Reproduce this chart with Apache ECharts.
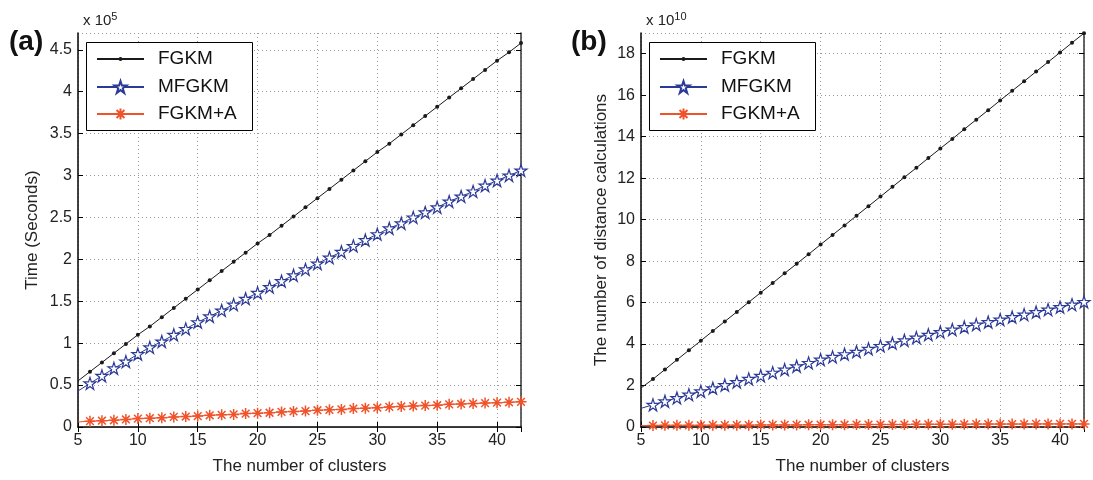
<!DOCTYPE html>
<html>
<head>
<meta charset="utf-8">
<script src="https://cdn.jsdelivr.net/npm/echarts@6/dist/echarts.min.js"></script>
<style>
  html, body { margin: 0; padding: 0; background: #fff; }
  #chart { width: 1093px; height: 480px; }
</style>
</head>
<body>
<div id="chart"></div>
<script>
// number of clusters (x axis)
const clusters = [5, 6, 7, 8, 9, 10, 11, 12, 13, 14, 15, 16, 17, 18, 19, 20, 21, 22, 23, 24,
    25, 26, 27, 28, 29, 30, 31, 32, 33, 34, 35, 36, 37, 38, 39, 40, 41, 42];

// (a) time, x 10^5 seconds
const timeFGKM = [0.55, 0.66, 0.77, 0.88, 0.99, 1.10, 1.20, 1.31, 1.42, 1.53, 1.64, 1.75, 1.86, 1.97,
    2.08, 2.19, 2.29, 2.40, 2.51, 2.62, 2.73, 2.84, 2.95, 3.06, 3.17, 3.28, 3.38, 3.49, 3.60, 3.71,
    3.82, 3.93, 4.04, 4.15, 4.26, 4.37, 4.47, 4.58];
const timeMFGKM = [0.43, 0.52, 0.61, 0.70, 0.78, 0.87, 0.95, 1.02, 1.10, 1.17, 1.25, 1.32, 1.39, 1.46,
    1.53, 1.60, 1.67, 1.74, 1.81, 1.88, 1.95, 2.02, 2.09, 2.16, 2.23, 2.30, 2.37, 2.43, 2.50, 2.56,
    2.62, 2.69, 2.75, 2.81, 2.88, 2.94, 3.00, 3.06];
const timeFGKMA = [0.06, 0.07, 0.075, 0.08, 0.09, 0.10, 0.105, 0.11, 0.12, 0.125, 0.13, 0.14, 0.145, 0.15,
    0.16, 0.165, 0.17, 0.18, 0.185, 0.19, 0.20, 0.205, 0.21, 0.22, 0.225, 0.23, 0.24, 0.245, 0.25, 0.255,
    0.26, 0.27, 0.275, 0.28, 0.285, 0.29, 0.295, 0.30];

// (b) distance calculations, x 10^10
const distFGKM = [1.88, 2.31, 2.77, 3.24, 3.70, 4.16, 4.63, 5.09, 5.55, 6.02, 6.48, 6.94, 7.41, 7.87,
    8.33, 8.80, 9.26, 9.72, 10.19, 10.65, 11.11, 11.58, 12.04, 12.50, 12.97, 13.43, 13.89, 14.36, 14.82, 15.28,
    15.75, 16.21, 16.67, 17.14, 17.60, 18.06, 18.53, 18.99];
const distMFGKM = [0.90, 1.07, 1.24, 1.40, 1.56, 1.72, 1.87, 2.02, 2.17, 2.32, 2.47, 2.62, 2.77, 2.93,
    3.09, 3.25, 3.38, 3.51, 3.63, 3.77, 3.91, 4.04, 4.18, 4.31, 4.45, 4.58, 4.70, 4.82, 4.94, 5.06,
    5.18, 5.30, 5.42, 5.54, 5.66, 5.78, 5.90, 6.03];
const distFGKMA = [0.07, 0.07, 0.08, 0.08, 0.08, 0.08, 0.09, 0.09, 0.09, 0.09, 0.10, 0.10, 0.10, 0.10,
    0.11, 0.11, 0.11, 0.11, 0.12, 0.12, 0.12, 0.12, 0.12, 0.13, 0.13, 0.13, 0.13, 0.13, 0.14, 0.14,
    0.14, 0.14, 0.14, 0.15, 0.15, 0.15, 0.15, 0.15];

const names = ['FGKM', 'MFGKM', 'FGKM+A'];

(function () {
    let chart = echarts.init(document.querySelector("#chart"));

    const font = "'Liberation Sans', Arial, sans-serif";
    const txt = '#222';

    // 标记样式
    const starPath = 'path://M5,0L6.18,3.8L10,3.8L6.9,6.1L8.1,10L5,7.6L1.9,10L3.1,6.1L0,3.8L3.8,3.8Z';
    const asteriskPath = 'path://M0,5L10,5M5,0L5,10M1.5,1.5L8.5,8.5M8.5,1.5L1.5,8.5';
    const styles = [
        { color: '#1a1a1a', symbol: 'circle', size: 4, fill: '#1a1a1a', border: 0, legendH: 5 },
        { color: '#2b3a97', symbol: starPath, size: 12, fill: '#fff', border: 1.2, legendH: 15 },
        { color: '#f0522a', symbol: asteriskPath, size: 11, fill: 'none', border: 1.5, legendH: 14 }
    ];

    function toData(ys) {
        // 第一个点落在坐标轴上，不画标记
        return clusters.map((c, i) => i === 0 ? { value: [c, ys[i]], symbol: 'none' } : [c, ys[i]]);
    }

    function makeSeries(k, ys, xi, yi) {
        const s = styles[k];
        return {
            name: names[k],
            type: 'line',
            xAxisIndex: xi,
            yAxisIndex: yi,
            data: toData(ys),
            symbol: s.symbol,
            symbolSize: s.size,
            showAllSymbol: true,
            clip: false,
            lineStyle: { color: s.color, width: 1 },
            itemStyle: { color: s.fill, borderColor: s.color, borderWidth: s.border },
            z: 10 - k,
            animation: false
        };
    }

    function xAxes(gi) {
        const base = {
            type: 'value', gridIndex: gi, min: 5, max: 42, interval: 5,
            axisLine: { lineStyle: { color: '#000', width: 1.5 } },
            axisTick: { inside: true, length: 5, lineStyle: { color: '#000' } }
        };
        return [
            Object.assign({}, base, {
                position: 'bottom',
                name: 'The number of clusters', nameLocation: 'middle', nameGap: 31,
                nameTextStyle: { fontFamily: font, fontSize: 17, color: txt },
                axisLabel: { fontFamily: font, fontSize: 16, color: txt, margin: 6, showMaxLabel: false },
                splitLine: { show: true, lineStyle: { color: '#9a9a9a', type: [1, 3] } }
            }),
            Object.assign({}, base, {
                position: 'top',
                axisLine: { lineStyle: { color: '#333', width: 1 } },
                axisLabel: { show: false },
                splitLine: { show: false }
            })
        ];
    }

    function yAxes(gi, max, interval, name, gap) {
        const base = {
            type: 'value', gridIndex: gi, min: 0, max: max, interval: interval,
            axisLine: { show: true, lineStyle: { color: '#000', width: 1.5 } },
            axisTick: { show: true, inside: true, length: 5, lineStyle: { color: '#000' } }
        };
        return [
            Object.assign({}, base, {
                position: 'left',
                name: name, nameLocation: 'middle', nameGap: gap,
                nameTextStyle: { fontFamily: font, fontSize: 17, color: txt },
                axisLabel: { fontFamily: font, fontSize: 16, color: txt, margin: 6, showMaxLabel: false },
                splitLine: { show: true, lineStyle: { color: '#9a9a9a', type: [1, 3] } }
            }),
            Object.assign({}, base, {
                position: 'right',
                axisLine: { show: true, lineStyle: { color: '#333', width: 1.5 } },
                axisLabel: { show: false },
                splitLine: { show: false }
            })
        ];
    }

    // 每个图例项单独一个 legend，才能让图标大小不同
    const legendCenters = [59, 87, 114];
    function legends(left) {
        return names.map((n, k) => ({
            orient: 'vertical',
            left: left,
            top: legendCenters[k] - 9.5,
            data: [n],
            itemWidth: 47,
            itemHeight: styles[k].legendH,
            padding: 0,
            textStyle: { fontFamily: font, fontSize: 19, color: '#111', lineHeight: 19, padding: [0, 0, 0, 9] },
            z: 21
        }));
    }

    function legendBox(x) {
        return {
            type: 'rect', left: x, top: 42, z: 20,
            shape: { width: 166, height: 88 },
            style: { fill: '#fff', stroke: '#000', lineWidth: 1 }
        };
    }

    function multTitle(left, exp) {
        return {
            left: left, top: 6,
            text: '{a|x 10}{b|' + exp + '}',
            textStyle: {
                fontWeight: 'normal',
                rich: {
                    a: { fontFamily: font, fontSize: 15, color: txt, fontWeight: 'normal' },
                    b: { fontFamily: font, fontSize: 11, color: txt, fontWeight: 'normal', padding: [0, 0, 9, 0] }
                }
            }
        };
    }

    let option = {
        backgroundColor: '#fff',
        animation: false,
        title: [
            { left: 4, top: 23, text: '(a)', textStyle: { fontFamily: font, fontSize: 28, fontWeight: 'bold', color: '#111' } },
            { left: 566, top: 23, text: '(b)', textStyle: { fontFamily: font, fontSize: 28, fontWeight: 'bold', color: '#111' } },
            multTitle(78, '5'),
            multTitle(641, '10')
        ],
        legend: legends(96).concat(legends(659)),
        graphic: [legendBox(86), legendBox(649)],
        grid: [
            { left: 78, top: 33, width: 443, height: 397 },
            { left: 641, top: 33, width: 443, height: 397 }
        ],
        xAxis: xAxes(0).concat(xAxes(1)),
        yAxis: yAxes(0, 4.7, 0.5, 'Time (Seconds)', 37).concat(yAxes(1, 19, 2, 'The number of distance calculations', 31)),
        series: [
            makeSeries(0, timeFGKM, 0, 0),
            makeSeries(1, timeMFGKM, 0, 0),
            makeSeries(2, timeFGKMA, 0, 0),
            makeSeries(0, distFGKM, 2, 2),
            makeSeries(1, distMFGKM, 2, 2),
            makeSeries(2, distFGKMA, 2, 2)
        ]
    };

    chart.setOption(option);

    window.addEventListener('resize', () => chart.resize());
})();
</script>
</body>
</html>
